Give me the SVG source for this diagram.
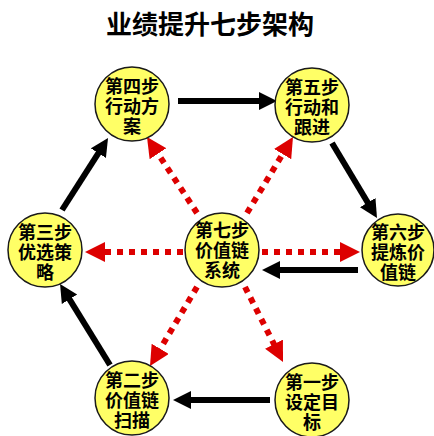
<svg xmlns="http://www.w3.org/2000/svg" width="434" height="436" viewBox="0 0 434 436">
<style>
.node circle{fill:#FFFF66;stroke:#1a1a1a;stroke-width:1.5}
.node text{font-family:"Noto Sans CJK SC","Noto Sans",sans-serif;font-weight:bold;font-size:18px;fill:#000;text-anchor:middle}
.title{font-family:"Noto Sans CJK SC","Noto Sans",sans-serif;font-weight:bold;font-size:26px;fill:#000;text-anchor:middle}
.blk{stroke:#000;stroke-width:6;fill:none}
.red{stroke:#DD0000;stroke-width:6;stroke-dasharray:6 6;fill:none}
</style>
<defs>
<marker id="ab" markerUnits="userSpaceOnUse" markerWidth="20" markerHeight="20" refX="4" refY="9" orient="auto">
<path d="M0,0 L18,9 L0,18 z" fill="#000"/>
</marker>
<marker id="ar" markerUnits="userSpaceOnUse" markerWidth="22" markerHeight="22" refX="4" refY="10" orient="auto">
<path d="M0,0 L20,10 L0,20 z" fill="#DD0000"/>
</marker>
</defs>
<rect width="434" height="436" fill="#fff"/>
<text class="title" x="210" y="34">业绩提升七步架构</text>
<g id="connectors">
<line class="blk" x1="178" y1="101" x2="263" y2="101" marker-end="url(#ab)"/>
<line class="blk" x1="332" y1="143" x2="369.8" y2="206" marker-end="url(#ab)"/>
<line class="blk" x1="358" y1="270" x2="276" y2="270" marker-end="url(#ab)"/>
<line class="blk" x1="270" y1="400" x2="187" y2="400" marker-end="url(#ab)"/>
<line class="blk" x1="110" y1="365" x2="67.4" y2="295.9" marker-end="url(#ab)"/>
<line class="blk" x1="62" y1="210" x2="100.5" y2="149.8" marker-end="url(#ab)"/>
<line class="red" x1="183" y1="252" x2="101" y2="252" marker-end="url(#ar)"/>
<line class="red" x1="262" y1="252" x2="344" y2="252" marker-end="url(#ar)"/>
<line class="red" x1="197" y1="213" x2="155.8" y2="150.4" marker-end="url(#ar)"/>
<line class="red" x1="247" y1="213" x2="284.7" y2="150.7" marker-end="url(#ar)"/>
<line class="red" x1="197" y1="287" x2="158.2" y2="352.2" marker-end="url(#ar)"/>
<line class="red" x1="245" y1="287" x2="275.8" y2="347.7" marker-end="url(#ar)"/>
</g>
<g id="step4" class="node"><circle cx="132" cy="104" r="37"/><text x="132" y="93">第四步<tspan x="132" dy="20">行动方</tspan><tspan x="132" dy="20">案</tspan></text></g>
<g id="step5" class="node"><circle cx="312" cy="105" r="37"/><text x="312" y="94">第五步<tspan x="312" dy="20">行动和</tspan><tspan x="312" dy="20">跟进</tspan></text></g>
<g id="step3" class="node"><circle cx="45" cy="250" r="37"/><text x="45" y="239">第三步<tspan x="45" dy="20">优选策</tspan><tspan x="45" dy="20">略</tspan></text></g>
<g id="step7" class="node"><circle cx="222" cy="250" r="37"/><text x="222" y="237">第七步<tspan x="222" dy="20">价值链</tspan><tspan x="222" dy="20">系统</tspan></text></g>
<g id="step6" class="node"><circle cx="398" cy="250" r="36"/><text x="398" y="239">第六步<tspan x="398" dy="20">提炼价</tspan><tspan x="398" dy="20">值链</tspan></text></g>
<g id="step2" class="node"><circle cx="132" cy="398" r="37"/><text x="132" y="387">第二步<tspan x="132" dy="20">价值链</tspan><tspan x="132" dy="20">扫描</tspan></text></g>
<g id="step1" class="node"><circle cx="312" cy="400" r="37"/><text x="312" y="389">第一步<tspan x="312" dy="20">设定目</tspan><tspan x="312" dy="20">标</tspan></text></g>
</svg>
